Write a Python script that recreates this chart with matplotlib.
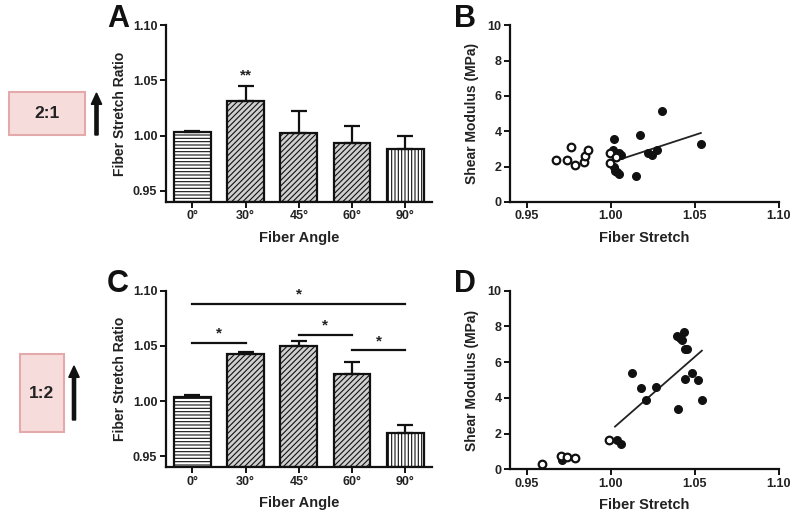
import numpy as np
import matplotlib
matplotlib.use("Agg")
import matplotlib.pyplot as plt
from matplotlib.patches import Rectangle, FancyArrow

plt.rcParams['font.family'] = ['Liberation Sans', 'DejaVu Sans']
plt.rcParams['font.weight'] = 'bold'
plt.rcParams['hatch.linewidth'] = 0.8

# ---- data ----
angles = ['0°', '30°', '45°', '60°', '90°']
hatches = ['-----', '//////', '//////', '//////', '|||||']
facecols = ['white', '#cfcfcf', '#cfcfcf', '#cfcfcf', 'white']

# A: 2:1
stretch_a = [1.003, 1.031, 1.002, 0.993, 0.988]
err_a = [0.0015, 0.014, 0.020, 0.016, 0.012]
# C: 1:2
stretch_c = [1.0036, 1.0428, 1.050, 1.0246, 0.971]
err_c = [0.0015, 0.002, 0.004, 0.0104, 0.007]

# B scatter
b_open_x = [0.9673, 0.9738, 0.9766, 0.9788, 0.9841, 0.9847, 0.9865, 0.9994, 0.9994, 1.0030]
b_open_y = [2.36, 2.36, 3.08, 2.08, 2.26, 2.59, 2.93, 2.79, 2.22, 2.55]
b_fill_x = [1.0020, 1.0016, 1.0049, 1.0060, 1.0020, 1.0025, 1.0049, 1.0035, 1.0149, 1.0173,
            1.0224, 1.0244, 1.0277, 1.0307, 1.0536]
b_fill_y = [3.55, 2.96, 2.74, 2.65, 1.98, 1.75, 1.60, 1.70, 1.45, 3.77,
            2.78, 2.68, 2.93, 5.15, 3.30]
b_fit_x = [1.0069, 1.0536]
b_fit_y = [2.45, 3.90]

# D scatter
d_open_x = [0.9589, 0.9702, 0.9742, 0.9786, 0.9990]
d_open_y = [0.30, 0.72, 0.71, 0.61, 1.64]
d_fill_x = [0.9710, 1.0039, 1.0059, 1.0129, 1.0179, 1.0212, 1.0271, 1.0399, 1.0397, 1.0410,
            1.0426, 1.0438, 1.0442, 1.0456, 1.0442, 1.0486, 1.0520, 1.0542]
d_fill_y = [0.50, 1.64, 1.40, 5.38, 4.57, 3.88, 4.63, 3.36, 7.46, 7.33,
            7.24, 7.67, 6.72, 6.72, 5.04, 5.38, 5.00, 3.88]
d_fit_x = [1.0025, 1.0542]
d_fit_y = [2.39, 6.64]

# significance bars for C: (x0, x1, y)
sig_c = [(0, 4, 1.088), (0, 1, 1.053), (2, 3, 1.060), (3, 4, 1.046)]

txt = '#222222'
fig = plt.figure(figsize=(8, 5.15), dpi=100)


def style_axes(ax):
    for s in ['top', 'right']:
        ax.spines[s].set_visible(False)
    for s in ['left', 'bottom']:
        ax.spines[s].set_linewidth(1.6)
        ax.spines[s].set_color('#111111')
    ax.tick_params(direction='out', length=4, width=1.4, labelsize=9,
                   colors='#111111', labelcolor=txt, pad=2)
    for lab in ax.get_xticklabels() + ax.get_yticklabels():
        lab.set_fontweight('bold')


def bar_panel(rect, vals, errs, letter):
    ax = fig.add_axes(rect)
    x = np.arange(len(angles))
    for i in range(len(angles)):
        ax.bar(x[i], vals[i] - 0.94, bottom=0.94, width=0.69, color=facecols[i],
               edgecolor='#111111', linewidth=1.6, hatch=hatches[i], zorder=2)
    ax.errorbar(x, vals, yerr=[np.zeros(len(errs)), errs], fmt='none',
                ecolor='#111111', elinewidth=1.6, capsize=6, capthick=1.6, zorder=3)
    ax.set_xlim(-0.5, 4.5)
    ax.set_ylim(0.94, 1.10)
    ax.set_yticks([0.95, 1.00, 1.05, 1.10])
    ax.set_yticklabels(['0.95', '1.00', '1.05', '1.10'])
    ax.set_xticks(x)
    ax.set_xticklabels(angles)
    ax.set_xlabel('Fiber Angle', fontsize=10.5, fontweight='bold', color=txt, labelpad=6)
    ax.set_ylabel('Fiber Stretch Ratio', fontsize=10, fontweight='bold', color=txt, labelpad=4)
    style_axes(ax)
    ax.text(-0.22, 1.035, letter, transform=ax.transAxes, fontsize=22,
            fontweight='bold', color='#111111', ha='left', va='center')
    return ax


def scatter_panel(rect, ox, oy, fx, fy, lx, ly, letter):
    ax = fig.add_axes(rect)
    ax.plot(lx, ly, color='#222222', lw=1.3, zorder=2)
    ax.scatter(fx, fy, s=30, color='#111111', zorder=3)
    ax.scatter(ox, oy, s=30, facecolor='white', edgecolor='#111111', linewidth=1.6, zorder=4)
    ax.set_xlim(0.94, 1.10)
    ax.set_ylim(0, 10)
    ax.set_xticks([0.95, 1.00, 1.05, 1.10])
    ax.set_xticklabels(['0.95', '1.00', '1.05', '1.10'])
    ax.set_yticks([0, 2, 4, 6, 8, 10])
    ax.set_xlabel('Fiber Stretch', fontsize=10.5, fontweight='bold', color=txt, labelpad=6)
    ax.set_ylabel('Shear Modulus (MPa)', fontsize=10, fontweight='bold', color=txt, labelpad=6)
    style_axes(ax)
    ax.text(-0.21, 1.035, letter, transform=ax.transAxes, fontsize=22,
            fontweight='bold', color='#111111', ha='left', va='center')
    return ax


ax_a = bar_panel([0.207, 0.608, 0.333, 0.343], stretch_a, err_a, 'A')
ax_a.text(1, stretch_a[1] + err_a[1] + 0.003, '**', ha='center', va='bottom',
          fontsize=11, fontweight='bold', color=txt)

scatter_panel([0.6375, 0.608, 0.336, 0.343], b_open_x, b_open_y, b_fill_x, b_fill_y,
              b_fit_x, b_fit_y, 'B')

ax_c = bar_panel([0.207, 0.0926, 0.333, 0.343], stretch_c, err_c, 'C')
for x0, x1, y in sig_c:
    ax_c.plot([x0, x1], [y, y], color='#111111', lw=1.6, clip_on=False)
    ax_c.text((x0 + x1) / 2, y + 0.002, '*', ha='center', va='bottom',
              fontsize=11, fontweight='bold', color=txt)

scatter_panel([0.6375, 0.0887, 0.336, 0.347], d_open_x, d_open_y, d_fill_x, d_fill_y,
              d_fit_x, d_fit_y, 'D')

# ratio boxes with arrows
box_fc = '#f7dcdc'
box_ec = '#e3a9ab'
fig.patches.append(Rectangle((9 / 800, 1 - 135 / 515), 76 / 800, 43 / 515,
                             transform=fig.transFigure, facecolor=box_fc,
                             edgecolor=box_ec, linewidth=1.5))
fig.text(47 / 800, 1 - 113 / 515, '2:1', ha='center', va='center', fontsize=12.5,
         fontweight='bold', color=txt)
fig.patches.append(FancyArrow(96.5 / 800, 1 - 135 / 515, 0, 42 / 515, width=0.004,
                              head_width=0.013, head_length=0.022,
                              length_includes_head=True, transform=fig.transFigure,
                              color='#111111'))

fig.patches.append(Rectangle((20 / 800, 1 - 432 / 515), 44 / 800, 78 / 515,
                             transform=fig.transFigure, facecolor=box_fc,
                             edgecolor=box_ec, linewidth=1.5))
fig.text(42 / 800, 1 - 393 / 515, '1:2', ha='center', va='center', fontsize=12.5,
         fontweight='bold', color=txt)
fig.patches.append(FancyArrow(74 / 800, 1 - 420 / 515, 0, 54 / 515, width=0.004,
                              head_width=0.013, head_length=0.022,
                              length_includes_head=True, transform=fig.transFigure,
                              color='#111111'))

fig.savefig('out.png', dpi=100)
